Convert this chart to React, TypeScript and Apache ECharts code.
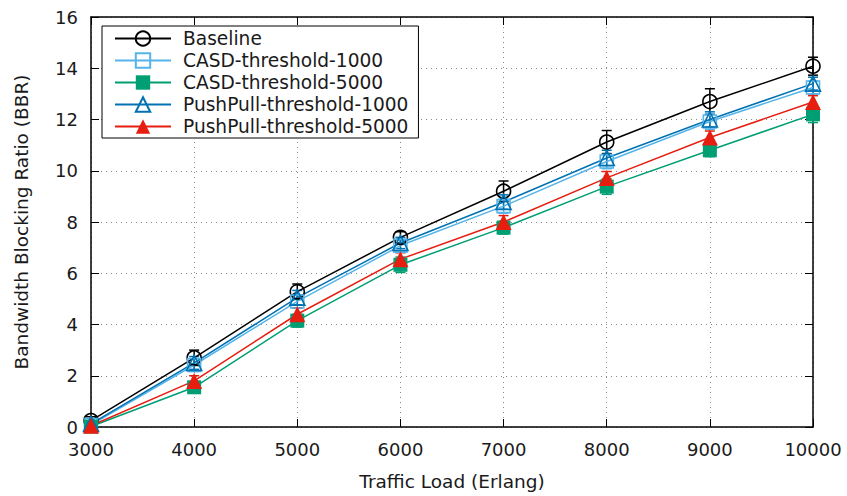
import React, { useEffect, useRef } from "react";
import * as echarts from "echarts";

const loads = [3000, 4000, 5000, 6000, 7000, 8000, 9000, 10000];
const xTicks = [3000, 4000, 5000, 6000, 7000, 8000, 9000, 10000];
const yTicks = [0, 2, 4, 6, 8, 10, 12, 14, 16];

const baseline = [0.25, 2.7, 5.28, 7.4, 9.2, 11.12, 12.7, 14.08];
const casd1000 = [0.08, 2.42, 4.9, 7.08, 8.62, 10.36, 11.92, 13.25];
const casd5000 = [0.02, 1.55, 4.15, 6.33, 7.78, 9.38, 10.8, 12.2];
const pushpull1000 = [0.12, 2.5, 5.05, 7.18, 8.78, 10.5, 12.0, 13.4];
const pushpull5000 = [0.05, 1.8, 4.4, 6.55, 8.0, 9.72, 11.3, 12.68];

const errBaseline = [0.15, 0.3, 0.3, 0.22, 0.4, 0.45, 0.5, 0.35];
const errCasd1000 = [0.1, 0.25, 0.25, 0.22, 0.28, 0.28, 0.3, 0.25];
const errCasd5000 = [0.05, 0.2, 0.25, 0.3, 0.25, 0.3, 0.25, 0.32];
const errPushpull1000 = [0.1, 0.25, 0.28, 0.22, 0.28, 0.3, 0.3, 0.25];
const errPushpull5000 = [0.05, 0.2, 0.25, 0.25, 0.25, 0.25, 0.25, 0.25];

const FONT = "DejaVu Sans";

type S = {
  name: string;
  values: number[];
  errs: number[];
  color: string;
  symbol: string;
  filled: boolean;
  size: number;
};

const seriesDefs: S[] = [
  { name: "Baseline", values: baseline, errs: errBaseline, color: "#000000", symbol: "circle", filled: false, size: 14 },
  { name: "CASD-threshold-1000", values: casd1000, errs: errCasd1000, color: "#56B4E9", symbol: "rect", filled: false, size: 13 },
  { name: "CASD-threshold-5000", values: casd5000, errs: errCasd5000, color: "#009E73", symbol: "rect", filled: true, size: 14 },
  { name: "PushPull-threshold-1000", values: pushpull1000, errs: errPushpull1000, color: "#0072B2", symbol: "triangle", filled: false, size: 15 },
  { name: "PushPull-threshold-5000", values: pushpull5000, errs: errPushpull5000, color: "#E51E10", symbol: "triangle", filled: true, size: 16 },
];

export default function App() {
  const ref = useRef<HTMLDivElement>(null);
  useEffect(() => {
    if (!ref.current) return;
    const chart = echarts.init(ref.current, undefined, { renderer: "svg" });

    const series: any[] = [];
    seriesDefs.forEach((s) => {
      series.push({
        name: s.name + "-err",
        type: "custom",
        xAxisIndex: 0,
        yAxisIndex: 0,
        data: loads.map((x, i) => [x, s.values[i], s.errs[i]]),
        renderItem: (params: any, api: any) => {
          const x = api.value(0);
          const y = api.value(1);
          const e = api.value(2);
          const lo = api.coord([x, y - e]);
          const hi = api.coord([x, y + e]);
          const w = 5;
          const st = { stroke: s.color, lineWidth: 1.5 };
          return {
            type: "group",
            children: [
              { type: "line", shape: { x1: lo[0], y1: lo[1], x2: hi[0], y2: hi[1] }, style: st },
              { type: "line", shape: { x1: lo[0] - w, y1: lo[1], x2: lo[0] + w, y2: lo[1] }, style: st },
              { type: "line", shape: { x1: hi[0] - w, y1: hi[1], x2: hi[0] + w, y2: hi[1] }, style: st },
            ],
          };
        },
        z: 2,
      });
    });
    seriesDefs.forEach((s) => {
      series.push({
        name: s.name,
        type: "line",
        xAxisIndex: 0,
        yAxisIndex: 0,
        data: loads.map((x, i) => [x, s.values[i]]),
        symbol: s.symbol,
        symbolSize: s.size,
        showAllSymbol: true,
        lineStyle: { color: s.color, width: 1.5 },
        itemStyle: s.filled
          ? { color: s.color, borderColor: s.color, borderWidth: 0 }
          : { color: "rgba(255,255,255,0)", borderColor: s.color, borderWidth: 1.6 },
        emphasis: { disabled: true },
        z: 3,
      });
    });

    const tickStyle = { fontFamily: FONT, fontSize: 18, color: "#1a1a1a" };
    const titleStyle = { fontFamily: FONT, fontSize: 18.5, color: "#1a1a1a" };

    chart.setOption({
      animation: false,
      backgroundColor: "#ffffff",
      grid: { left: 91, right: 34, top: 17, bottom: 65, containLabel: false },
      legend: {
        data: seriesDefs.map((s) => s.name),
        orient: "vertical",
        left: 102,
        top: 26,
        padding: [3, 10, 2, 12],
        itemWidth: 56,
        itemHeight: 18,
        itemGap: 3,
        backgroundColor: "#ffffff",
        borderColor: "#000000",
        borderWidth: 1,
        borderRadius: 0,
        textStyle: { fontFamily: FONT, fontSize: 18.6, color: "#1a1a1a", padding: [0, 0, 0, 7] },
      },
      xAxis: [
        {
          type: "value",
          min: xTicks[0],
          max: xTicks[xTicks.length - 1],
          interval: 1000,
          name: "Traffic Load (Erlang)",
          nameLocation: "middle",
          nameGap: 45,
          nameTextStyle: titleStyle,
          axisLine: { show: true, onZero: false, lineStyle: { color: "#000", width: 1.5 } },
          axisTick: { show: true, inside: true, length: 8, lineStyle: { color: "#000", width: 1 } },
          axisLabel: { ...tickStyle, margin: 13, formatter: (v: number) => String(v) },
          splitLine: { show: true, lineStyle: { color: "#888", type: [1, 4], width: 1 } },
        },
        {
          type: "value",
          position: "top",
          min: xTicks[0],
          max: xTicks[xTicks.length - 1],
          interval: 1000,
          axisLine: { show: true, onZero: false, lineStyle: { color: "#000", width: 1.5 } },
          axisTick: { show: true, inside: true, length: 8, lineStyle: { color: "#000", width: 1 } },
          axisLabel: { show: false },
          splitLine: { show: false },
        },
      ],
      yAxis: [
        {
          type: "value",
          min: yTicks[0],
          max: yTicks[yTicks.length - 1],
          interval: 2,
          name: "Bandwidth Blocking Ratio (BBR)",
          nameLocation: "middle",
          nameGap: 60,
          nameTextStyle: titleStyle,
          axisLine: { show: true, onZero: false, lineStyle: { color: "#000", width: 1.5 } },
          axisTick: { show: true, inside: true, length: 8, lineStyle: { color: "#000", width: 1 } },
          axisLabel: { ...tickStyle, margin: 13 },
          splitLine: { show: true, lineStyle: { color: "#888", type: [1, 4], width: 1 } },
        },
        {
          type: "value",
          position: "right",
          min: yTicks[0],
          max: yTicks[yTicks.length - 1],
          interval: 2,
          axisLine: { show: true, onZero: false, lineStyle: { color: "#000", width: 1.5 } },
          axisTick: { show: true, inside: true, length: 8, lineStyle: { color: "#000", width: 1 } },
          axisLabel: { show: false },
          splitLine: { show: false },
        },
      ],
      series,
    });
    return () => chart.dispose();
  }, []);
  return <div ref={ref} style={{ width: 847, height: 496, position: "absolute", left: 0, top: 0 }} />;
}
